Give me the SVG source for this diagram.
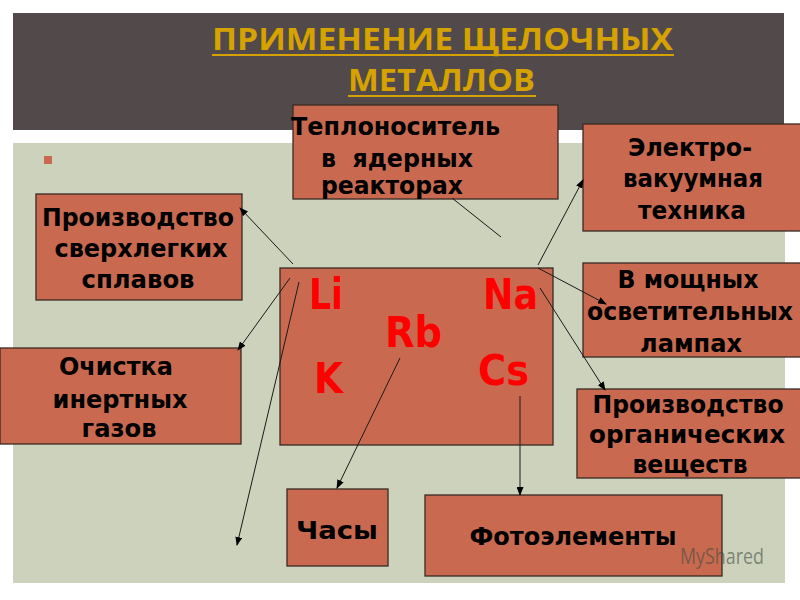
<svg xmlns="http://www.w3.org/2000/svg" width="800" height="600" viewBox="0 0 800 600">
<style>
.box{fill:#c96a50;stroke:#3a2a22;stroke-width:1.3}
.lbl{font-family:"DejaVu Sans","Liberation Sans",sans-serif;font-weight:bold;font-size:24px;fill:#000;white-space:pre}
.el{font-family:"DejaVu Sans","Liberation Sans",sans-serif;font-weight:bold;font-size:42px;fill:#ff0000}
.title{font-family:"Open Sans","DejaVu Sans",sans-serif;font-weight:bold;font-size:31px;fill:#d6a200}
.conn line{stroke:#1a1a1a;stroke-width:1}
</style>
<defs>
<marker id="ah" markerUnits="userSpaceOnUse" markerWidth="9" markerHeight="7" refX="8" refY="3.5" orient="auto">
<path d="M0,0 L9,3.5 L0,7 z" fill="#000"/>
</marker>
</defs>
<rect width="800" height="600" fill="#ffffff"/>
<rect x="13" y="143" width="772" height="440" fill="#cdd2bd"/>
<rect x="13" y="13" width="771" height="117" fill="#524a4a"/>
<g id="title">
<text class="title" x="212" y="50" textLength="461" lengthAdjust="spacingAndGlyphs">ПРИМЕНЕНИЕ ЩЕЛОЧНЫХ</text>
<text class="title" x="348" y="91" textLength="187" lengthAdjust="spacingAndGlyphs">МЕТАЛЛОВ</text>
<line x1="212" y1="55" x2="674" y2="55" stroke="#d6a200" stroke-width="2"/>
<line x1="348" y1="96" x2="536" y2="96" stroke="#d6a200" stroke-width="2"/>
</g>
<rect x="44" y="156" width="8" height="8" fill="#c96a50"/>

<g id="node-teplo">
<rect class="box" x="293" y="105" width="265" height="94"/>
<text class="lbl" x="291" y="135" textLength="209" lengthAdjust="spacingAndGlyphs">Теплоноситель</text>
<text class="lbl" x="321" y="167" textLength="152" lengthAdjust="spacingAndGlyphs">в  ядерных</text>
<text class="lbl" x="321" y="194" textLength="142" lengthAdjust="spacingAndGlyphs">реакторах</text>
</g>
<g id="node-electro">
<rect class="box" x="583" y="124" width="220" height="107"/>
<text class="lbl" x="690" y="156" text-anchor="middle" textLength="124" lengthAdjust="spacingAndGlyphs">Электро-</text>
<text class="lbl" x="693" y="187" text-anchor="middle" textLength="140" lengthAdjust="spacingAndGlyphs">вакуумная</text>
<text class="lbl" x="692" y="219" text-anchor="middle" textLength="108" lengthAdjust="spacingAndGlyphs">техника</text>
</g>
<g id="node-alloys">
<rect class="box" x="36" y="194" width="206" height="106"/>
<text class="lbl" x="138" y="226" text-anchor="middle" textLength="192" lengthAdjust="spacingAndGlyphs">Производство</text>
<text class="lbl" x="141" y="257" text-anchor="middle" textLength="173" lengthAdjust="spacingAndGlyphs">сверхлегких</text>
<text class="lbl" x="138" y="288" text-anchor="middle" textLength="113" lengthAdjust="spacingAndGlyphs">сплавов</text>
</g>
<g id="node-metals">
<rect class="box" x="280" y="268" width="273" height="177"/>
<text class="el" x="309" y="309" textLength="34" lengthAdjust="spacingAndGlyphs">Li</text>
<text class="el" x="483" y="309" textLength="55" lengthAdjust="spacingAndGlyphs">Na</text>
<text class="el" x="385" y="347" textLength="57" lengthAdjust="spacingAndGlyphs">Rb</text>
<text class="el" x="314" y="393" textLength="29" lengthAdjust="spacingAndGlyphs">K</text>
<text class="el" x="478" y="385" textLength="51" lengthAdjust="spacingAndGlyphs">Cs</text>
</g>
<g id="node-lamps">
<rect class="box" x="583" y="263" width="220" height="94"/>
<text class="lbl" x="688" y="288" text-anchor="middle" textLength="141" lengthAdjust="spacingAndGlyphs">В мощных</text>
<text class="lbl" x="690" y="320" text-anchor="middle" textLength="206" lengthAdjust="spacingAndGlyphs">осветительных</text>
<text class="lbl" x="691" y="352" text-anchor="middle" textLength="102" lengthAdjust="spacingAndGlyphs">лампах</text>
</g>
<g id="node-gases">
<rect class="box" x="0" y="348" width="241" height="96"/>
<text class="lbl" x="116" y="375" text-anchor="middle" textLength="114" lengthAdjust="spacingAndGlyphs">Очистка</text>
<text class="lbl" x="120" y="408" text-anchor="middle" textLength="135" lengthAdjust="spacingAndGlyphs">инертных</text>
<text class="lbl" x="119" y="437" text-anchor="middle" textLength="75" lengthAdjust="spacingAndGlyphs">газов</text>
</g>
<g id="node-organic">
<rect class="box" x="577" y="389" width="226" height="89"/>
<text class="lbl" x="688" y="413" text-anchor="middle" textLength="191" lengthAdjust="spacingAndGlyphs">Производство</text>
<text class="lbl" x="687" y="443" text-anchor="middle" textLength="196" lengthAdjust="spacingAndGlyphs">органических</text>
<text class="lbl" x="690" y="473" text-anchor="middle" textLength="115" lengthAdjust="spacingAndGlyphs">веществ</text>
</g>
<g id="node-clock">
<rect class="box" x="287" y="489" width="101" height="77"/>
<text class="lbl" x="337" y="539" text-anchor="middle" font-size="31" textLength="82" lengthAdjust="spacingAndGlyphs">Часы</text>
</g>
<g id="node-photo">
<rect class="box" x="425" y="495" width="297" height="81"/>
<text class="lbl" x="573" y="545" text-anchor="middle" textLength="207" lengthAdjust="spacingAndGlyphs">Фотоэлементы</text>
</g>

<g id="connectors" class="conn">
<line x1="293" y1="264" x2="240" y2="208" marker-end="url(#ah)"/>
<line x1="290" y1="278" x2="238" y2="350" marker-end="url(#ah)"/>
<line x1="299" y1="282" x2="237" y2="545" marker-end="url(#ah)"/>
<line x1="400" y1="358" x2="337" y2="488" marker-end="url(#ah)"/>
<line x1="520" y1="396" x2="520" y2="495" marker-end="url(#ah)"/>
<line x1="501" y1="237" x2="452" y2="198"/>
<line x1="538" y1="265" x2="583" y2="180" marker-end="url(#ah)"/>
<line x1="538" y1="268" x2="606" y2="304" marker-end="url(#ah)"/>
<line x1="540" y1="288" x2="605" y2="390" marker-end="url(#ah)"/>
</g>
<text x="680" y="564" font-family="Open Sans, DejaVu Sans, sans-serif" font-size="22" fill="#3f4d3f" fill-opacity="0.6" textLength="84" lengthAdjust="spacingAndGlyphs">MyShared</text>
</svg>
